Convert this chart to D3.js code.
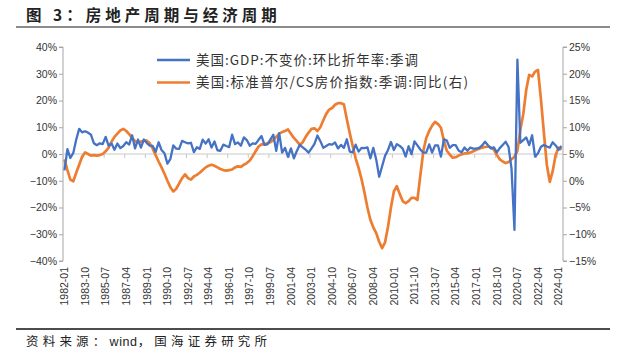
<!DOCTYPE html>
<html>
<head>
<meta charset="utf-8">
<script src="https://cdn.jsdelivr.net/npm/d3@7"></script>
<style>
  body { margin: 0; background: #fff; }
  svg { display: block; }
</style>
</head>
<body>
<svg id="chart" width="618" height="363"></svg>
<script>
// quarterly, 1982Q1 .. 2024Q2
const gdp = [
  -6.1, 1.8, -1.5, 0.4,   5.4, 9.4, 8.1, 8.5,   8.0, 7.2, 4.0, 3.3,   4.0, 3.7, 6.4, 3.1,
  3.9, 1.6, 3.9, 2.2,     3.0, 4.4, 3.5, 7.0,   2.1, 5.4, 2.4, 5.4,   4.1, 3.1, 3.0, 0.8,
  4.4, 1.5, 0.3, -3.6,    -1.9, 3.2, 2.0, 1.9,  4.9, 4.4, 4.0, 4.2,   0.7, 2.5, 1.9, 5.4,
  3.9, 5.5, 2.4, 4.7,     1.4, 1.2, 3.5, 3.0,   2.6, 7.2, 3.7, 4.3,   3.1, 6.2, 5.2, 3.1,
  4.0, 3.8, 5.3, 6.7,     3.4, 3.6, 5.4, 7.2,   1.2, 7.8, 0.5, 2.3,   -1.1, 2.1, -1.6, 1.1,
  3.4, 2.5, 1.6, 0.5,     2.1, 3.8, 6.9, 4.8,   2.3, 3.0, 3.7, 3.5,   4.3, 2.1, 3.4, 2.3,
  5.5, 0.9, 0.6, 3.5,     0.9, 2.3, 2.2, 2.5,   -1.6, 2.3, -2.1, -8.5, -4.6, -0.7, 1.5, 4.5,
  1.5, 3.7, 3.0, 2.0,     -1.0, 2.9, -0.1, 4.7, 3.2, 1.7, 0.5, 0.5,   3.6, 0.5, 3.2, 3.2,
  -1.0, 5.5, 5.0, 2.3,    3.3, 3.3, 1.3, 0.6,   2.4, 1.2, 2.4, 2.0,   2.0, 2.3, 3.2, 4.6,
  3.3, 2.1, 2.5, 0.6,     2.2, 3.4, 4.6, 2.6,   -5.5, -28.4, 35.3, 4.2, 5.2, 6.2, 3.3, 7.0,
  -1.0, 0.3, 2.7, 3.4,    2.8, 2.4, 4.4, 3.2,   1.6, 3.0
];
const csYoY = [
  4.0, 2.0, 0.2, -0.1,    1.5, 3.0, 4.5, 5.3,   5.0, 4.7, 4.8, 4.7,   4.8, 5.0, 5.5, 6.2,
  7.3, 8.2, 8.8, 9.4,     9.7, 9.3, 8.7, 8.0,   7.4, 7.2, 7.3, 7.5,   7.5, 7.0, 6.0, 4.8,
  3.6, 2.5, 1.3, 0.0,     -1.2, -2.0, -1.5, -0.5, 0.5, 1.2, 0.5, 0.2, 0.8, 1.1, 1.5, 2.0,
  2.5, 2.8, 3.0, 2.8,     2.5, 2.2, 2.0, 1.9,   2.0, 2.1, 2.5, 2.7,   2.6, 3.0, 3.3, 3.8,
  4.6, 5.5, 6.4, 6.8,     6.8, 7.0, 7.2, 7.6,   8.2, 8.8, 9.1, 9.3,   9.6, 8.8, 8.0, 7.4,
  6.7, 7.2, 8.2, 9.0,     9.7, 9.8, 9.3, 10.0,  11.3, 12.5, 13.3, 13.6, 14.2, 14.5, 14.5, 14.3,
  11.5, 8.9, 6.5, 4.2,    2.4, 0.3, -2.2, -5.0, -7.3, -8.7, -9.8, -11.4, -12.6, -11.5, -8.6, -5.0,
  -2.0, -1.0, -2.5, -3.8, -4.2, -3.8, -3.2, -3.2, -3.6, 1.0, 5.5, 8.0, 9.3, 10.3, 11.0, 10.6,
  9.9, 7.5, 5.6, 4.9,     4.3, 4.4, 4.7, 4.9,   5.1, 5.1, 5.3, 5.5,   5.8, 6.0, 6.2, 6.3,
  6.4, 6.2, 5.8, 4.8,     4.0, 3.6, 3.3, 3.5,   4.0, 4.5, 5.6, 9.5,   12.5, 17.0, 19.8, 19.5,
  20.4, 20.7, 15.2, 9.0,  3.0, -0.2, 1.8, 4.8,  6.2, 5.8
];
const leftTicks = [-40, -30, -20, -10, 0, 10, 20, 30, 40];
const rightTicks = [-15, -10, -5, 0, 5, 10, 15, 20, 25];
const xTickLabels = ["1982-01", "1983-10", "1985-07", "1987-04", "1989-01", "1990-10", "1992-07",
  "1994-04", "1996-01", "1997-10", "1999-07", "2001-04", "2003-01", "2004-10", "2006-07",
  "2008-04", "2010-01", "2011-10", "2013-07", "2015-04", "2017-01", "2018-10", "2020-07",
  "2022-04", "2024-01"];
const seriesNames = ["美国:GDP:不变价:环比折年率:季调", "美国:标准普尔/CS房价指数:季调:同比(右)"];
const colors = ["#4472C4", "#ED7D31"];

const svg = d3.select("#chart");
const plotL = 63, plotR = 563, plotT = 47, plotB = 261;

const x = d3.scaleBand().domain(d3.range(gdp.length)).range([plotL, plotR]);
const cx = i => x(i) + x.bandwidth() / 2;
const yL = d3.scaleLinear().domain([-40, 40]).range([plotB, plotT]);
const yR = d3.scaleLinear().domain([-15, 25]).range([plotB, plotT]);

// title + rules
svg.append("text").attr("x", 26).attr("y", 21)
  .attr("font-family", "Noto Sans CJK SC").attr("font-size", 15.5).attr("font-weight", "bold")
  .attr("letter-spacing", 4).attr("fill", "#222")
  .text("图 3：房地产周期与经济周期");
svg.append("line").attr("x1", 16).attr("x2", 610).attr("y1", 27).attr("y2", 27)
  .attr("stroke", "#8c8c8c").attr("stroke-width", 2);
svg.append("line").attr("x1", 16).attr("x2", 610).attr("y1", 329).attr("y2", 329)
  .attr("stroke", "#111").attr("stroke-width", 1.5);
const src = svg.append("text").attr("x", 26).attr("y", 346)
  .attr("font-family", "Noto Sans CJK SC").attr("font-size", 12.5).attr("fill", "#222");
src.append("tspan").attr("letter-spacing", 4.2).text("资料来源：");
src.append("tspan").attr("letter-spacing", 0.6).attr("font-family", "Liberation Sans, Arial").text("wind");
src.append("tspan").attr("letter-spacing", 4.2).text("，国海证券研究所");

const axisColor = "#a6a6a6";
const tickFont = "Liberation Sans, Arial, sans-serif";

// left axis
const gl = svg.append("g").attr("transform", `translate(${plotL},0)`)
  .call(d3.axisLeft(yL).tickValues(leftTicks).tickSize(4).tickPadding(2)
    .tickFormat(d => d3.format("d")(d) + "%"));
// right axis
const gr = svg.append("g").attr("transform", `translate(${plotR},0)`)
  .call(d3.axisRight(yR).tickValues(rightTicks).tickSize(4).tickPadding(2)
    .tickFormat(d => d3.format("d")(d) + "%"));
[gl, gr].forEach(g => {
  g.select(".domain").attr("stroke", axisColor).attr("d", g === gl
    ? `M-4,${plotT}H0V${plotB}H-4` : `M4,${plotT}H0V${plotB}H4`);
  g.selectAll(".tick line").attr("stroke", axisColor);
  g.selectAll(".tick text").attr("font-family", tickFont).attr("font-size", 10.5).attr("fill", "#333");
});

// zero line with category ticks
const xTickIdx = d3.range(0, gdp.length, 7);
svg.append("line").attr("x1", plotL).attr("x2", plotR).attr("y1", yL(0)).attr("y2", yL(0))
  .attr("stroke", "#c8c8c8").attr("stroke-width", 1);
svg.append("g").selectAll("line").data(xTickIdx).join("line")
  .attr("x1", i => x(i)).attr("x2", i => x(i))
  .attr("y1", yL(0)).attr("y2", yL(0) + 4)
  .attr("stroke", "#c8c8c8");

// x labels at the bottom
svg.append("g").selectAll("text").data(xTickLabels).join("text")
  .attr("transform", (d, k) => `translate(${cx(k * 7)},267) rotate(-90)`)
  .attr("text-anchor", "end").attr("dy", "0.35em")
  .attr("font-family", tickFont).attr("font-size", 10.5).attr("fill", "#333")
  .text(d => d);

// lines
const lineL = d3.line().x((d, i) => cx(i)).y(d => yL(d));
const lineR = d3.line().x((d, i) => cx(i)).y(d => yR(d));
svg.append("path").datum(csYoY).attr("d", lineR)
  .attr("fill", "none").attr("stroke", colors[1]).attr("stroke-width", 2.7).attr("stroke-linejoin", "round");
svg.append("path").datum(gdp).attr("d", lineL)
  .attr("fill", "none").attr("stroke", colors[0]).attr("stroke-width", 2.3).attr("stroke-linejoin", "round");

// legend
const legendWidths = [222, 272];
const lg = svg.append("g").selectAll("g").data(seriesNames).join("g")
  .attr("transform", (d, k) => `translate(157,${60 + k * 22.5})`);
lg.append("line").attr("x1", 0).attr("x2", 33).attr("stroke", (d, k) => colors[k]).attr("stroke-width", 2.6);
lg.append("text").attr("x", 39).attr("dy", "0.36em")
  .attr("font-family", "Noto Sans CJK SC").attr("font-size", 13.5).attr("fill", "#333")
  .attr("textLength", (d, k) => legendWidths[k]).attr("lengthAdjust", "spacing")
  .text(d => d);
</script>
</body>
</html>
